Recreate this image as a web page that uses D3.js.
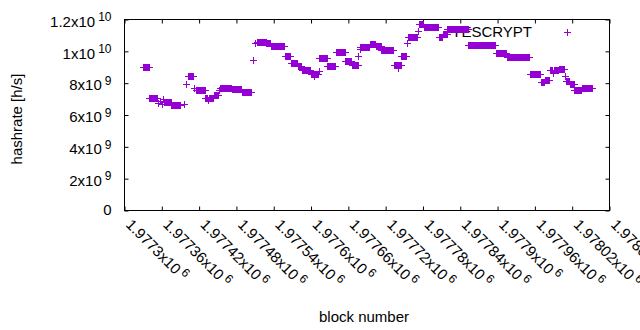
<!DOCTYPE html>
<html><head><meta charset="utf-8">
<script src="https://cdn.jsdelivr.net/npm/d3@7"></script>
<style>body{margin:0;background:#fff}svg{display:block}text{font-family:"Liberation Sans",Arial,sans-serif}</style>
</head><body><svg id="c" width="640" height="330"></svg>
<script>
// ---- data ----
const runStart = [1977331,1977341,1977355,1977358,1977361,1977363,1977365,1977376,1977396,1977399,1977403,1977413,1977415,1977431,1977435,1977436,1977444,1977452,1977454,1977473,1977489,1977507,1977511,1977514,1977529,1977536,1977559,1977569,1977580,1977586,1977600,1977606,1977607,1977613,1977614,1977627,1977641,1977656,1977666,1977677,1977679,1977680,1977695,1977705,1977714,1977734,1977740,1977741,1977746,1977755,1977756,1977773,1977775,1977782,1977806,1977813,1977820,1977854,1977898,1977916,1977953,1977971,1977977,1977985,1977990,1977991,1977999,1978010,1978011,1978017,1978024,1978036];
const runEnd   = [1977340,1977353,1977355,1977358,1977361,1977363,1977375,1977390,1977396,1977399,1977411,1977413,1977430,1977434,1977435,1977443,1977451,1977452,1977472,1977488,1977504,1977507,1977511,1977528,1977535,1977558,1977567,1977579,1977585,1977599,1977605,1977606,1977612,1977613,1977626,1977640,1977655,1977665,1977676,1977677,1977679,1977694,1977704,1977713,1977733,1977739,1977740,1977745,1977753,1977755,1977771,1977773,1977781,1977805,1977812,1977819,1977853,1977897,1977915,1977952,1977969,1977976,1977984,1977989,1977990,1977998,1978008,1978010,1978016,1978023,1978035,1978052];
const runHashrate = [8.98e9,7.03e9,6.72e9,6.85e9,6.65e9,7.00e9,6.77e9,6.59e9,6.69e9,7.94e9,8.42e9,7.69e9,7.53e9,7.06e9,6.90e9,7.06e9,7.25e9,7.56e9,7.67e9,7.60e9,7.42e9,9.41e9,10.48e9,10.58e9,10.48e9,10.33e9,9.67e9,9.22e9,9.02e9,8.79e9,8.56e9,8.41e9,8.56e9,8.75e9,9.54e9,9.02e9,9.92e9,9.33e9,9.12e9,9.69e9,10.12e9,10.25e9,10.44e9,10.31e9,10.06e9,9.12e9,8.94e9,9.12e9,9.69e9,10.48e9,10.84e9,11.25e9,11.66e9,11.52e9,10.84e9,11.04e9,11.39e9,10.37e9,9.86e9,9.61e9,8.54e9,8.05e9,8.15e9,8.78e9,8.60e9,8.78e9,8.88e9,8.40e9,8.12e9,7.90e9,7.56e9,7.64e9];
const seriesName = "YESCRYPT";

const xTickValues = [1977300,1977360,1977420,1977480,1977540,1977600,1977660,1977720,1977780,1977840,1977900,1977960,1978020,1978080];
const xTickMantissa = ["1.9773","1.97736","1.97742","1.97748","1.97754","1.9776","1.97766","1.97772","1.97778","1.97784","1.9779","1.97796","1.97802","1.97808"];
const xTickExponent = "6";
const yTickValues = [0,2e9,4e9,6e9,8e9,1e10,1.2e10];
const yTickMantissa = ["0","2","4","6","8","1","1.2"];
const yTickExponent = ["","9","9","9","9","10","10"];

// ---- layout ----
const L = 124.5, R = 609.5, T = 19.5, B = 210.5;
const FS = 15, SFS = 12;
const color = "#9400d3";

const svg = d3.select("#c");
svg.append("rect").attr("width",640).attr("height",330).attr("fill","#fff");

const x = d3.scaleLinear().domain([1977300,1978080]).range([L,R]);
const y = d3.scaleLinear().domain([0,1.2e10]).range([B,T]);

function styleAxis(g){
  g.selectAll("path.domain").remove();
  g.selectAll(".tick line").attr("stroke","#000").attr("stroke-width",1);
  g.attr("font-size",FS).attr("font-family","Liberation Sans, Arial, sans-serif");
}

// bottom axis with rotated labels
const gx = svg.append("g").attr("transform",`translate(0,${B})`)
  .call(d3.axisBottom(x).tickValues(xTickValues).tickSizeInner(-4).tickSizeOuter(0).tickPadding(0).tickFormat(""));
styleAxis(gx);
gx.selectAll(".tick text").each(function(d,i){
  const t = d3.select(this);
  t.attr("y",null).attr("dy",null).attr("text-anchor","start").attr("fill","#000")
   .attr("transform","translate(0,15) rotate(45)");
  t.append("tspan").text(xTickMantissa[i] + "x10");
  t.append("tspan").attr("dx",3).attr("dy",-5.5).attr("font-size",SFS).text(xTickExponent);
});
// top mirror ticks
const gxt = svg.append("g").attr("transform",`translate(0,${T})`)
  .call(d3.axisTop(x).tickValues(xTickValues).tickSizeInner(-4).tickSizeOuter(0).tickFormat(""));
styleAxis(gxt);

// left axis
const gy = svg.append("g").attr("transform",`translate(${L},0)`)
  .call(d3.axisLeft(y).tickValues(yTickValues).tickSizeInner(-4).tickSizeOuter(0).tickPadding(13).tickFormat(""));
styleAxis(gy);
gy.selectAll(".tick text").each(function(d,i){
  const t = d3.select(this);
  t.attr("fill","#000").attr("text-anchor","end");
  if (yTickExponent[i] === "") {
    t.attr("dy",3.6).text(yTickMantissa[i]);
  } else {
    t.attr("dy",6.7);
    t.append("tspan").text(yTickMantissa[i] + "x10");
    t.append("tspan").attr("dx",3).attr("dy",-5.5).attr("font-size",SFS).text(yTickExponent[i]);
  }
});
// right mirror ticks
const gyr = svg.append("g").attr("transform",`translate(${R},0)`)
  .call(d3.axisRight(y).tickValues(yTickValues).tickSizeInner(-4).tickSizeOuter(0).tickFormat(""));
styleAxis(gyr);

// border
svg.append("rect").attr("x",L).attr("y",T).attr("width",R-L).attr("height",B-T)
  .attr("fill","none").attr("stroke","#000").attr("stroke-width",1);

// axis titles
svg.append("text").attr("x",364).attr("y",321.5).attr("text-anchor","middle")
  .attr("font-size",FS).attr("fill","#000").text("block number");
svg.append("text").attr("transform","translate(22,119) rotate(-90)").attr("text-anchor","middle")
  .attr("font-size",FS).attr("fill","#000").text("hashrate [h/s]");

// legend text (drawn beneath the points)
svg.append("text").attr("x",532).attr("y",36.5).attr("text-anchor","end")
  .attr("font-size",FS).attr("fill","#000").text(seriesName);

// points: each run is a stretch of consecutive blocks with the same value
const pts = [];
runStart.forEach((s,i)=>{ for(let b=s;b<=runEnd[i];b++) pts.push([b, runHashrate[i]]); });
const plus = "M-3.5,0H3.5M0,-3.5V3.5";
svg.append("g").attr("stroke",color).attr("stroke-width",1).attr("fill","none")
  .selectAll("path").data(pts).join("path")
  .attr("d",plus)
  .attr("transform",d=>`translate(${Math.round(x(d[0])-0.5)+0.5},${Math.round(y(d[1])-0.5)+0.5})`);

// legend sample
svg.append("path").attr("d",plus).attr("stroke",color).attr("stroke-width",1)
  .attr("transform","translate(567.5,32.5)");
</script></body></html>
